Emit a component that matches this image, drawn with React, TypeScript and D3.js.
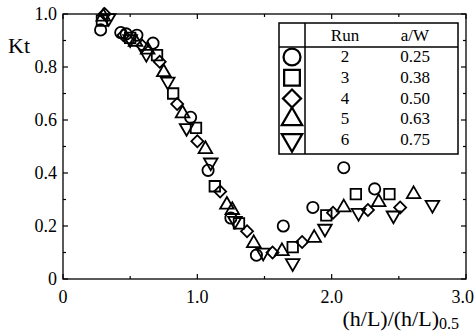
import React, { useEffect, useRef } from 'react';
import * as d3 from 'd3';

// runs shown in the legend table
const runs = ['2', '3', '4', '5', '6'];
const aW = ['0.25', '0.38', '0.50', '0.63', '0.75'];
const shapes = ['circle', 'square', 'diamond', 'triangle', 'invtriangle'];

// [ (h/L)/(h/L)0.5 , Kt ] per run
const run2: [number, number][] = [
    [0.28, 0.94], [0.43, 0.93], [0.47, 0.925], [0.55, 0.92], [0.67, 0.89], [0.95, 0.61],
    [1.08, 0.41], [1.25, 0.23], [1.44, 0.09], [1.64, 0.20], [1.86, 0.27], [2.09, 0.42], [2.32, 0.34],
];
const run3: [number, number][] = [
    [0.29, 0.975], [0.50, 0.91], [0.70, 0.845], [0.82, 0.70], [0.99, 0.57], [1.13, 0.35],
    [1.31, 0.21], [1.71, 0.12], [1.96, 0.24], [2.18, 0.32], [2.43, 0.32],
];
const run4: [number, number][] = [
    [0.31, 1.0], [0.45, 0.92], [0.59, 0.88], [0.72, 0.82], [0.85, 0.66], [1.0, 0.52], [1.17, 0.33],
    [1.37, 0.18], [1.56, 0.10], [1.78, 0.14], [2.01, 0.25], [2.27, 0.26], [2.51, 0.27],
];
const run5: [number, number][] = [
    [0.30, 0.99], [0.54, 0.895], [0.63, 0.865], [0.75, 0.78], [0.89, 0.625], [1.06, 0.49], [1.22, 0.28],
    [1.26, 0.26], [1.42, 0.135], [1.63, 0.105], [1.87, 0.155], [2.09, 0.27], [2.35, 0.29], [2.61, 0.32],
];
const run6: [number, number][] = [
    [0.34, 0.985], [0.50, 0.905], [0.62, 0.85], [0.78, 0.745], [0.92, 0.57], [1.10, 0.44], [1.28, 0.22],
    [1.49, 0.10], [1.71, 0.06], [1.95, 0.19], [2.20, 0.25], [2.46, 0.24], [2.75, 0.28],
];
const series = [run2, run3, run4, run5, run6];

const xMajor = [0, 1, 2, 3];
const xMinor = [0.5, 1.5, 2.5];
const yMajor = [0, 0.2, 0.4, 0.6, 0.8, 1.0];
const yMinor = [0.1, 0.3, 0.5, 0.7, 0.9];

const font = "'Liberation Serif', 'DejaVu Serif', serif";

function symbolPath(shape: string) {
    if (shape === 'circle') return { d: d3.symbol(d3.symbolCircle, 100)()!, rot: 0 };
    if (shape === 'square') return { d: d3.symbol(d3.symbolSquare, 110)()!, rot: 0 };
    if (shape === 'diamond') return { d: d3.symbol(d3.symbolSquare, 72)()!, rot: 45 };
    if (shape === 'triangle') return { d: d3.symbol(d3.symbolTriangle, 80)()!, rot: 0 };
    return { d: d3.symbol(d3.symbolTriangle, 80)()!, rot: 180 };
}

export default function App() {
    const ref = useRef<SVGSVGElement | null>(null);
    useEffect(() => {
        const svg = d3.select(ref.current);
        svg.selectAll('*').remove();
        const width = 475, height = 335, margin = { top: 14, right: 9, bottom: 56, left: 63 };
        const x = d3.scaleLinear().domain([0, 3]).range([margin.left, width - margin.right]);
        const y = d3.scaleLinear().domain([0, 1]).range([height - margin.bottom, margin.top]);
        const x0 = x(0), x1 = x(3), y0 = y(0), y1 = y(1);

        // frame
        svg.append('rect').attr('x', x0).attr('y', y1).attr('width', x1 - x0).attr('height', y0 - y1)
            .attr('fill', 'none').attr('stroke', '#000').attr('stroke-width', 1.3);

        const ticks = svg.append('g').attr('stroke', '#000').attr('stroke-width', 1.2);
        const xt = (v: number, len: number) => {
            ticks.append('line').attr('x1', x(v)).attr('x2', x(v)).attr('y1', y0).attr('y2', y0 - len);
            ticks.append('line').attr('x1', x(v)).attr('x2', x(v)).attr('y1', y1).attr('y2', y1 + len);
        };
        const yt = (v: number, len: number) => {
            ticks.append('line').attr('y1', y(v)).attr('y2', y(v)).attr('x1', x0).attr('x2', x0 + len);
            ticks.append('line').attr('y1', y(v)).attr('y2', y(v)).attr('x1', x1).attr('x2', x1 - len);
        };
        xMajor.forEach(v => xt(v, 5));
        xMinor.forEach(v => xt(v, 3));
        yMajor.forEach(v => yt(v, 5));
        yMinor.forEach(v => yt(v, 3));

        const txt = svg.append('g').attr('font-family', font).attr('fill', '#000');
        txt.selectAll('text.yl').data(yMajor).join('text')
            .attr('x', x0 - 6).attr('y', d => y(d) + 6)
            .attr('text-anchor', 'end').attr('font-size', 18)
            .text(d => d === 0 ? '0' : d.toFixed(1));
        txt.selectAll('text.xl').data(xMajor).join('text')
            .attr('x', d => d === 3 ? width - 1 : x(d)).attr('y', y0 + 24)
            .attr('text-anchor', d => d === 3 ? 'end' : 'middle').attr('font-size', 18)
            .text(d => d === 0 ? '0' : d.toFixed(1));

        txt.append('text').attr('x', 8).attr('y', 53).attr('font-size', 22).text('Kt');
        const xt2 = txt.append('text').attr('x', x1 - 7).attr('y', 326).attr('text-anchor', 'end').attr('font-size', 22);
        xt2.append('tspan').text('(h/L)/(h/L)');
        xt2.append('tspan').attr('font-size', 16).attr('dy', 3).text('0.5');

        // points
        series.forEach((pts, i) => {
            const s = symbolPath(shapes[i]);
            svg.append('g').selectAll('path').data(pts).join('path')
                .attr('d', s.d)
                .attr('transform', d => `translate(${x(d[0])},${y(d[1])}) rotate(${s.rot})`)
                .attr('fill', 'none')
                .attr('stroke', '#000').attr('stroke-width', 1.8);
        });

        // legend table
        const lx = 279, ly = 23, lw = 179, lh = 131, colX = 305, headY = 47;
        const leg = svg.append('g');
        leg.append('rect').attr('x', lx).attr('y', ly).attr('width', lw).attr('height', lh)
            .attr('fill', '#fff').attr('stroke', '#000').attr('stroke-width', 1.5);
        leg.append('line').attr('x1', lx).attr('x2', lx + lw).attr('y1', headY).attr('y2', headY)
            .attr('stroke', '#000').attr('stroke-width', 1.5);
        leg.append('line').attr('x1', colX).attr('x2', colX).attr('y1', ly).attr('y2', ly + lh)
            .attr('stroke', '#000').attr('stroke-width', 1.5);
        const lt = leg.append('g').attr('font-family', font).attr('font-size', 17).attr('text-anchor', 'middle');
        lt.append('text').attr('x', 345).attr('y', 41).text('Run');
        lt.append('text').attr('x', 415).attr('y', 41).text('a/W');
        const rowY = d3.scaleLinear().domain([0, 4]).range([57, 140]);
        runs.forEach((r, i) => {
            const cy = rowY(i);
            const s = symbolPath(shapes[i]);
            leg.append('path').attr('d', s.d)
                .attr('transform', `translate(${292},${cy}) rotate(${s.rot}) scale(1.5)`)
                .attr('fill', '#fff').attr('stroke', '#000').attr('stroke-width', 1.5);
            lt.append('text').attr('x', 345).attr('y', cy + 5).text(r);
            lt.append('text').attr('x', 415).attr('y', cy + 5).text(aW[i]);
        });
    }, []);
    return <svg ref={ref} width={475} height={335} style={{ position: 'absolute', left: 0, top: 0, background: '#fff' }} />;
}
